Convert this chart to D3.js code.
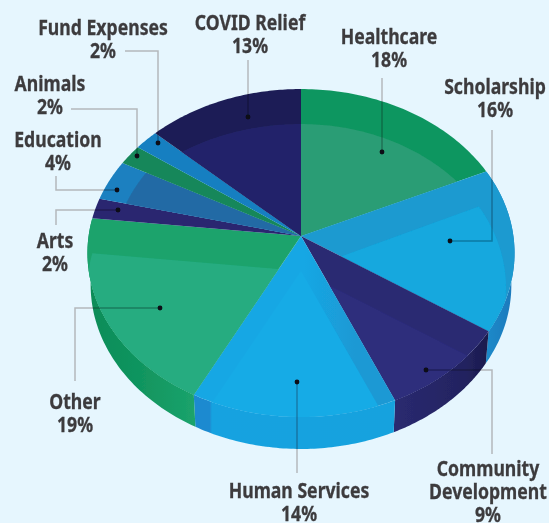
<!DOCTYPE html>
<html>
<head>
<meta charset="utf-8">
<script src="https://cdn.jsdelivr.net/npm/d3@7"></script>
<style>
  html, body { margin: 0; padding: 0; background: #e6f6fe; overflow: hidden; }
  svg { display: block; }
  text { font-family: "Noto Sans", sans-serif; font-weight: 700; font-size: 21px; fill: #3c3b3e; stroke: #3c3b3e; stroke-width: 0.3px; text-anchor: middle; }
</style>
</head>
<body>
<div id="chart"></div>
<script>
// chart data, clockwise from 12 o'clock
const categories = ['Healthcare', 'Scholarship', 'Community Development', 'Human Services', 'Other',
  'Arts', 'Education', 'Animals', 'Fund Expenses', 'COVID Relief'];
const values = [18, 16, 9, 14, 19, 2, 4, 2, 2, 13];

const rimColors = ['#0f9660', '#1b9ad0', '#2a2a72', 'url(#rim-human)', '#1ba36c', '#2a2670', '#1a80c0', '#14875a', '#127fc1', '#1c1e56'];
const faceColors = ['#2a9d74', '#12a8de', '#2d2d7c', '#18abe6', '#26ac80', '#2a2670', '#236ba5', '#14875a', '#127fc1', '#24246a'];
const sideStops = {
  1: [[0, '#1d8ccb'], [1, '#1c78bb']],
  2: [[0, '#2a2a70'], [0.75, '#232360'], [1, '#1a1a4c']],
  3: [[0, '#1b8ad0'], [0.08, '#1b8ad0'], [0.09, '#17a2e0'], [1, '#15a2de']],
  4: [[0, '#0e8c58'], [0.5, '#11955f'], [1, '#1ba36c']]
};

const width = 549;
const height = 523;

// pie is a tilted disc, so the rim goes through a small perspective divide
const apex = { x: 301, y: 236 };
const radiusX = 212.4;
const radiusY = 162.2;
const tilt = 0.1037;
const depth = 32;

// how the lit part of each slice sits relative to the slice: [dx, dy, x scale]
const faceOffsets = [
  [0, 35, 0.96], [0, 35, 0.96], [0, 35, 1], [0, 35, 1], [0, 35, 1],
  [0, 35, 1], [25, 8, 1], [0, 35, 1], [0, 35, 1], [0, 35, 1]
];

function project(angle) {
  const w = 1 + tilt * Math.cos(angle);
  return [apex.x + radiusX * Math.sin(angle) / w, apex.y - radiusY * Math.cos(angle) / w];
}

function rimPoints(d) {
  return d3.range(0, 61).map(i => project(d.startAngle + (d.endAngle - d.startAngle) * i / 60));
}

const line = d3.line();
const pie = d3.pie().sort(null);
const slices = pie(values);

const svg = d3.select('#chart').append('svg')
  .attr('width', width)
  .attr('height', height)
  .attr('viewBox', `0 0 ${width} ${height}`);

svg.append('rect').attr('width', width).attr('height', height).attr('fill', '#e6f6fe');

const defs = svg.append('defs');
const soft = defs.append('filter').attr('id', 'soft');
soft.append('feGaussianBlur').attr('stdDeviation', 0.4);

Object.keys(sideStops).forEach(key => {
  const grad = defs.append('linearGradient').attr('id', `side-${key}`);
  sideStops[key].forEach(s => grad.append('stop').attr('offset', s[0]).attr('stop-color', s[1]));
});

const rimHuman = defs.append('linearGradient').attr('id', 'rim-human');
rimHuman.append('stop').attr('offset', 0).attr('stop-color', '#18a7e4');
rimHuman.append('stop').attr('offset', 0.55).attr('stop-color', '#18a7e4');
rimHuman.append('stop').attr('offset', 0.8).attr('stop-color', '#1b99d4');

slices.forEach((d, i) => {
  defs.append('clipPath').attr('id', `wedge-${i}`)
    .append('path').attr('d', line([[apex.x, apex.y], ...rimPoints(d)]) + 'Z');
});

const root = svg.append('g').attr('filter', 'url(#soft)');

// side wall
slices.forEach((d, i) => {
  if (!sideStops[i]) return;
  const rim = rimPoints(d);
  const lower = rim.map(p => [apex.x + (p[0] - apex.x) * 0.985, p[1] + depth]).reverse();
  root.append('path')
    .attr('d', line([...rim, ...lower]) + 'Z')
    .attr('fill', `url(#side-${i})`);
});

// top face: rim colour, then the lit face moved and clipped to the wedge
slices.forEach((d, i) => {
  const wedge = [[apex.x, apex.y], ...rimPoints(d)];
  const [dx, dy, sx] = faceOffsets[i];
  root.append('path')
    .attr('d', line(wedge) + 'Z')
    .attr('fill', rimColors[i]);
  root.append('g')
    .attr('clip-path', `url(#wedge-${i})`)
    .append('path')
    .attr('d', line(wedge.map(p => [apex.x + (p[0] - apex.x) * sx + dx, p[1] + dy])) + 'Z')
    .attr('fill', faceColors[i]);
});

// leader lines, each ends in a dot on its slice
const leaders = [
  [[382, 78], [382, 152]],
  [[492, 130], [492, 241], [450, 241]],
  [[492, 454], [492, 370], [426, 370]],
  [[297, 473], [297, 382]],
  [[75, 381], [75, 308], [160, 308]],
  [[56, 225], [56, 210], [118, 210]],
  [[56, 176], [56, 190], [117, 190]],
  [[71, 109], [137, 109], [137, 156]],
  [[125, 51], [158, 51], [158, 143]],
  [[248, 60], [248, 117]]
];

leaders.forEach(pts => {
  root.append('path')
    .attr('d', line(pts))
    .attr('fill', 'none')
    .attr('stroke', '#b4b8bc')
    .attr('stroke-width', 1.5)
    .style('mix-blend-mode', 'multiply');
  const end = pts[pts.length - 1];
  root.append('circle')
    .attr('cx', end[0]).attr('cy', end[1]).attr('r', 2.4)
    .attr('fill', '#0a0a14');
});

// labels, last line is the percentage
const labelLines = [
  ['Healthcare'], ['Scholarship'], ['Community', 'Development'], ['Human Services'], ['Other'],
  ['Arts'], ['Education'], ['Animals'], ['Fund Expenses'], ['COVID Relief']
];
const labelAnchors = [
  [389, 44], [495, 94], [488, 476], [299, 498], [75, 409],
  [55, 248], [58, 147], [50, 91], [103, 35], [250, 30]
];
const lineGap = 23;

labelLines.forEach((lines, i) => {
  const label = root.append('text')
    .attr('transform', `translate(${labelAnchors[i][0]},${labelAnchors[i][1]}) scale(0.84,1)`);
  [...lines, `${values[i]}%`].forEach((row, j) => {
    label.append('tspan')
      .attr('x', 0)
      .attr('y', j * lineGap)
      .text(row);
  });
});
</script>
</body>
</html>
